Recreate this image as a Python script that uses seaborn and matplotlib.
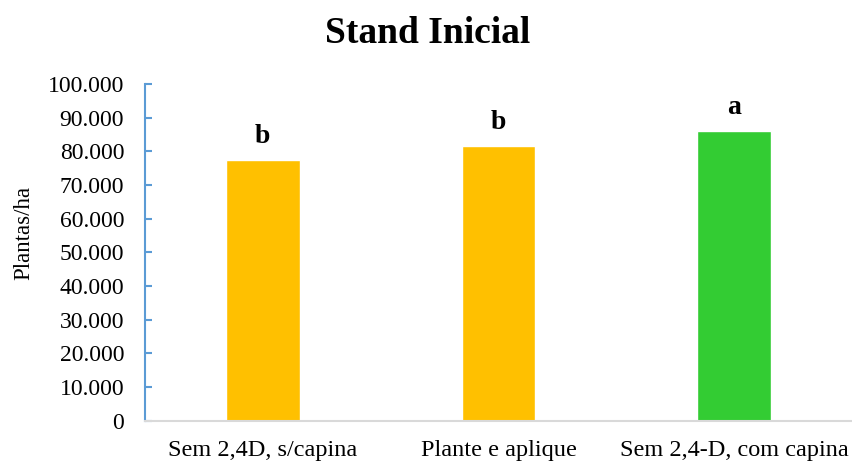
import matplotlib
matplotlib.use("Agg")
import matplotlib.pyplot as plt
import matplotlib.ticker as mticker
import seaborn as sns
import pandas as pd

categories = ["Sem 2,4D, s/capina", "Plante e aplique", "Sem 2,4-D, com capina"]
values = [77400, 81600, 86000]
letters = ["b", "b", "a"]
colors = ["#FFC000", "#FFC000", "#33CC33"]
yticks = list(range(0, 100001, 10000))

sns.set_theme(style="white")
plt.rcParams["font.family"] = ["Liberation Serif", "DejaVu Serif"]

df = pd.DataFrame({"cat": categories, "val": values})

fig = plt.figure(figsize=(8.52, 4.61), dpi=100)
ax = fig.add_axes([145/852, 1-420.7/461, 707/852, (420.7-84)/461])

sns.barplot(data=df, x="cat", y="val", hue="cat", palette=colors,
            width=0.314, legend=False, ax=ax, saturation=1)

ax.set_xlim(-0.5, 2.5)
ax.set_ylim(0, 100000)
ax.set_yticks(yticks)
ax.yaxis.set_major_formatter(mticker.FuncFormatter(
    lambda v, p: f"{int(v):,}".replace(",", ".")))

for i, (v, l) in enumerate(zip(values, letters)):
    ax.annotate(l, xy=(i, v), xytext=(0, 12.5), textcoords="offset points",
                ha="center", va="baseline", fontsize=20, fontweight="bold",
                color="black")

fig.text(428/852, 1-43/461, "Stand Inicial", fontsize=27, fontweight="bold",
         ha="center", va="baseline", color="black")
ax.set_xlabel("")
ax.set_ylabel("Plantas/ha", fontsize=16.5, color="black")
ax.yaxis.set_label_coords(-0.156, 0.558)

for s in ["top", "right"]:
    ax.spines[s].set_visible(False)
ax.spines["left"].set_color("#5B9BD5")
ax.spines["left"].set_linewidth(1.5)
ax.spines["bottom"].set_color("#D9D9D9")
ax.spines["bottom"].set_linewidth(1.5)

ax.tick_params(axis="y", direction="in", length=5, width=1.5, color="#5B9BD5",
               labelsize=17, labelcolor="black", pad=15, left=True)
ax.tick_params(axis="x", length=0, labelsize=17.5, labelcolor="black", pad=14)

fig.savefig("out.png", dpi=100)
